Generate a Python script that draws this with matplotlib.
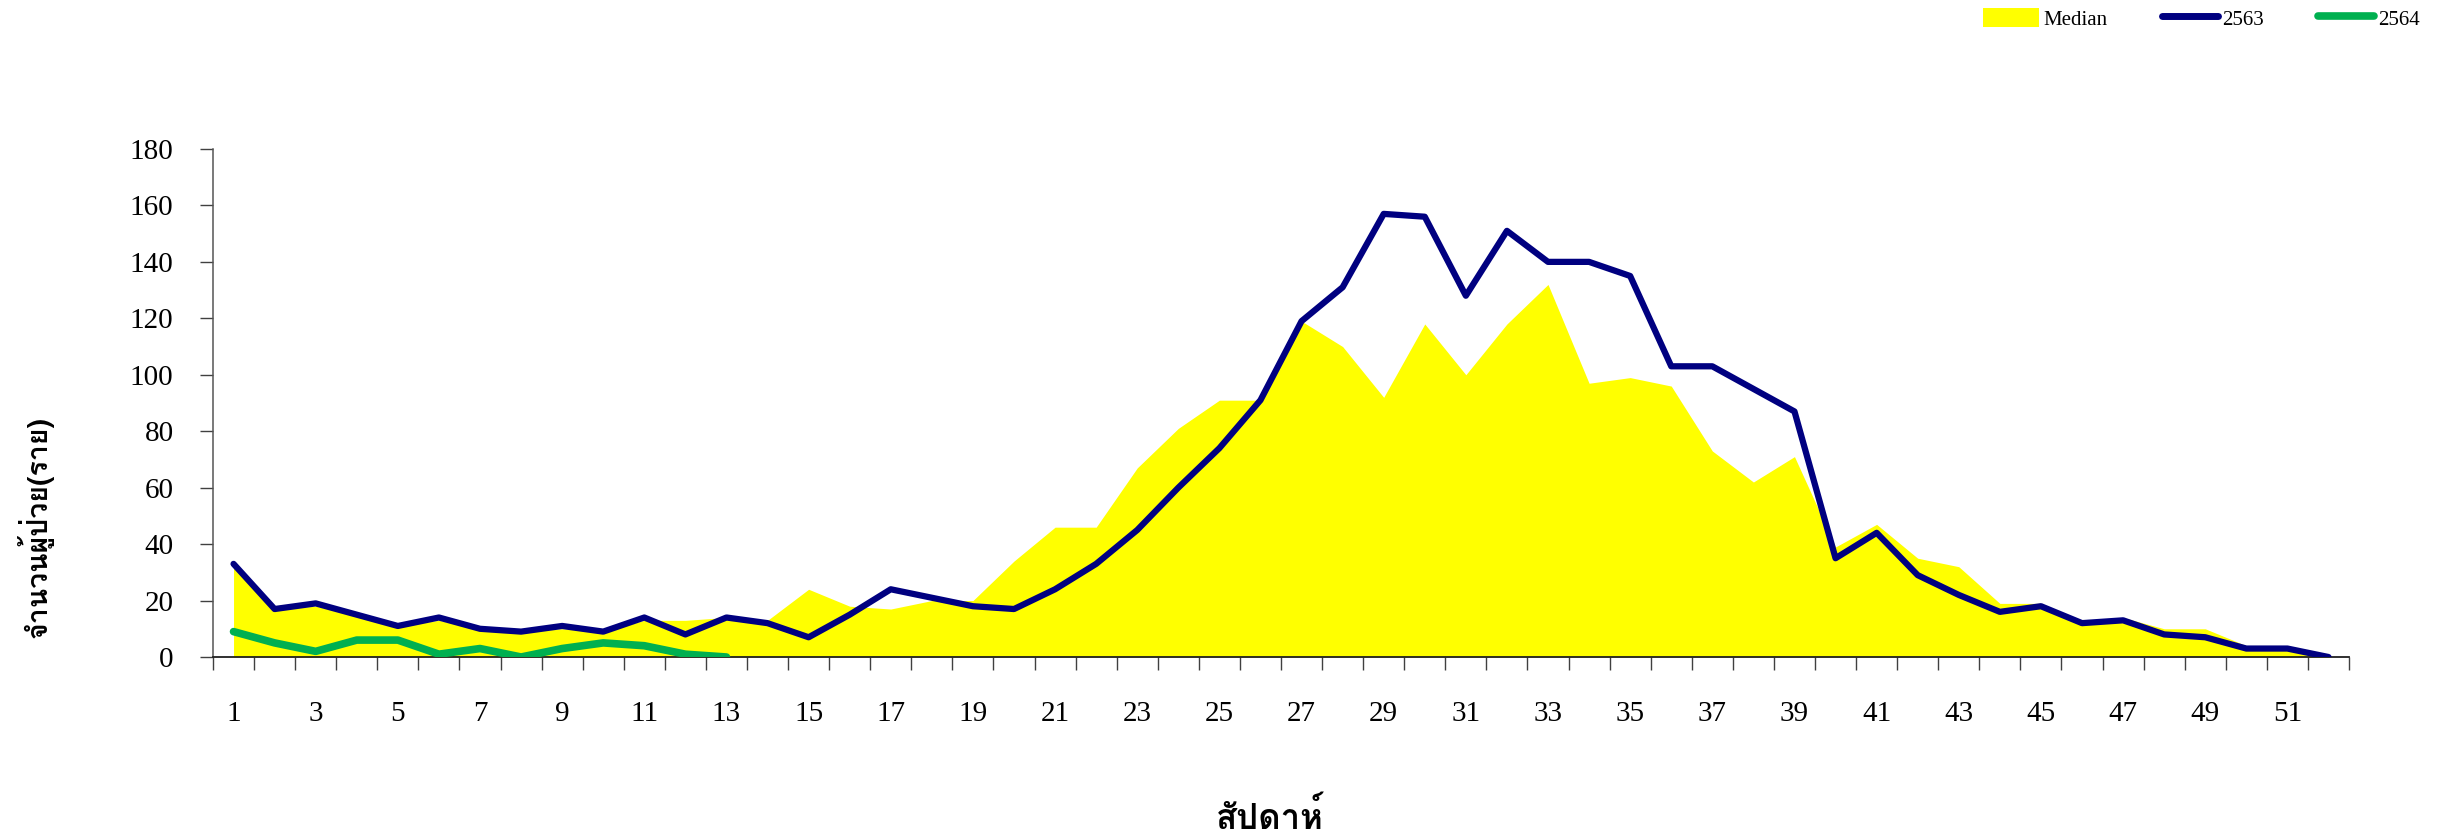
import matplotlib
matplotlib.use("Agg")
import matplotlib.pyplot as plt
from matplotlib import font_manager
from matplotlib.ft2font import FT2Font
from matplotlib.patches import Patch
from matplotlib.lines import Line2D


# # Data (weekly patient counts):
weeks = list(range(1, 53))
median = [32, 17, 18, 15, 11, 13, 10, 9, 10, 9, 13, 13, 14, 13, 24, 18, 17, 20, 20, 34,
          46, 46, 67, 81, 91, 91, 119, 110, 92, 118, 100, 118, 132, 97, 99, 96, 73, 62, 71, 39,
          47, 35, 32, 19, 19, 12, 14, 10, 10, 4, 4, 1]
y2563 = [33, 17, 19, 15, 11, 14, 10, 9, 11, 9, 14, 8, 14, 12, 7, 15, 24, 21, 18, 17,
         24, 33, 45, 60, 74, 91, 119, 131, 157, 156, 128, 151, 140, 140, 135, 103, 103, 95, 87, 35,
         44, 29, 22, 16, 18, 12, 13, 8, 7, 3, 3, 0]
y2564 = [9, 5, 2, 6, 6, 1, 3, 0, 3, 5, 4, 1, 0]
weeks_2564 = weeks[:len(y2564)]

y_ticks = list(range(0, 181, 20))
x_labels = [str(w) for w in weeks if w % 2 == 1]

x_title = "สัปดาห์"
y_title = "จำนวนผู้ป่วย(ราย)"
legend_names = ["Median", "2563", "2564"]


# # Pick an installed font that has Thai glyphs (fallback to DejaVu Sans):
def find_thai_font():
    names = []
    for f in font_manager.fontManager.ttflist:
        try:
            if 0x0E2A in FT2Font(f.fname).get_charmap():
                names.append(f.name)
        except Exception:
            pass
    return names[0] if names else "DejaVu Sans"

thai_font = find_thai_font()
serif = ["Liberation Serif", "DejaVu Serif"]

fig = plt.figure(figsize=(24.37, 8.36), dpi=100)
ax = fig.add_axes([0.0874, 0.2141, 0.8765, 0.6077])

ax.fill_between(weeks, median, 0, color="#FFFF00", lw=0, zorder=1)
ax.plot(weeks, y2563, color="#000080", lw=4.5, solid_capstyle="round", zorder=3)
ax.plot(weeks_2564, y2564, color="#00B050", lw=5.5, solid_capstyle="round", zorder=4)

ax.set_xlim(0.5, 52.5)
ax.set_ylim(0, 180)
ax.set_yticks(y_ticks)
ax.set_yticklabels([str(v) for v in y_ticks], family=serif, fontsize=21)
ax.set_xticks([w for w in weeks if w % 2 == 1])
ax.set_xticklabels(x_labels, family=serif, fontsize=21)
ax.set_xticks([w + 0.5 for w in range(0, 53)], minor=True)

ax.tick_params(axis="x", which="major", length=0, pad=32)
ax.tick_params(axis="x", which="minor", length=9.4, width=1, color="#404040", direction="out")
ax.tick_params(axis="y", which="major", length=9.4, width=1, color="#404040", pad=19)

for side in ["top", "right"]:
    ax.spines[side].set_visible(False)
ax.spines["left"].set_color("#555555")
ax.spines["bottom"].set_color("#202020")
ax.spines["left"].set_linewidth(1.1)
ax.spines["bottom"].set_linewidth(1.3)

ax.set_xlabel(x_title, family=[thai_font, "DejaVu Sans"], fontsize=25, fontweight="bold")
ax.xaxis.set_label_coords(0.495, -0.313)
ax.xaxis.label.set_va("center")
ax.set_ylabel(y_title, family=[thai_font, "DejaVu Sans"], fontsize=20.5, fontweight="bold")
ax.yaxis.set_label_coords(-0.0833, 0.256)
ax.yaxis.label.set_va("center")

handles = [Patch(facecolor="#FFFF00", edgecolor="none"),
           Line2D([], [], color="#000080", lw=5, solid_capstyle="round"),
           Line2D([], [], color="#00B050", lw=5.5, solid_capstyle="round")]
fig.legend(handles, legend_names, loc="center right", bbox_to_anchor=(2420 / 2437, 1 - 19 / 836),
           ncol=3, frameon=False, prop={"family": serif, "size": 15}, borderpad=0, borderaxespad=0,
           handlelength=2.7, handleheight=1.0, handletextpad=0.2, columnspacing=2.6)

plt.savefig("out.png", dpi=100)
